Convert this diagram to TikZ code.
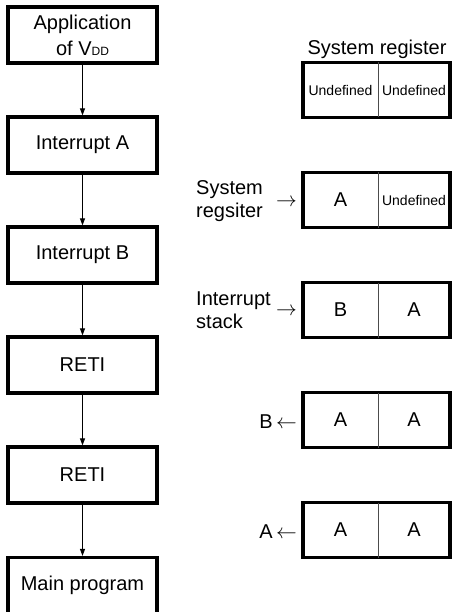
\documentclass[tikz,border=0pt]{standalone}
\usepackage{fontspec}
\setmainfont{Liberation Sans}
\usetikzlibrary{arrows.meta}
\begin{document}
\begin{tikzpicture}[x=1pt,y=-1pt,
  flow/.style={draw, line width=3.2pt, minimum width=149pt, minimum height=56pt,
    align=center, inner sep=0pt, font=\fontsize{20}{26}\selectfont},
  regbox/.style={draw, line width=3.2pt, minimum width=147pt, minimum height=55pt, inner sep=0pt},
  cell/.style={inner sep=0pt, font=\fontsize{20}{24}\selectfont},
  small/.style={inner sep=0pt, font=\fontsize{14}{16}\selectfont},
  lbl/.style={inner sep=0pt, align=left, font=\fontsize{20}{23}\selectfont},
  divider/.style={draw=black!70, line width=1pt},
  conn/.style={-{Triangle[length=7pt,width=5pt]}, line width=1pt}]
\useasboundingbox (0,0) rectangle (451,612);

% flow chart
\node[flow] (vdd) at (82.5,35) {Application\\of V{\fontsize{12}{12}\selectfont DD}};
\node[flow] (ia) at (82.5,145) {Interrupt A};
\node[flow] (ib) at (82.5,255) {Interrupt B};
\node[flow] (r1) at (82.5,365) {RETI};
\node[flow] (r2) at (82.5,475) {RETI};
\node[flow] (mp) at (82.5,585.5) {Main program};
\draw[conn] (vdd) -- (ia);
\draw[conn] (ia) -- (ib);
\draw[conn] (ib) -- (r1);
\draw[conn] (r1) -- (r2);
\draw[conn] (r2) -- (mp);

% registers
\node[inner sep=0pt, anchor=base, font=\fontsize{20}{24}\selectfont] (title) at (377,55) {System register};

\node[regbox] (g1) at (376.5,90) {};
\draw[divider] (378,62.5) -- (378,117.5);
\node[small] (g1l) at (340.5,90) {Undefined};
\node[small] (g1r) at (414,90) {Undefined};

\node[regbox] (g2) at (376.5,200) {};
\draw[divider] (378,172.5) -- (378,227.5);
\node[cell] (g2l) at (340.5,200) {A};
\node[small] (g2r) at (414,200) {Undefined};

\node[regbox] (g3) at (376.5,310) {};
\draw[divider] (378,282.5) -- (378,337.5);
\node[cell] (g3l) at (340.5,310) {B};
\node[cell] (g3r) at (414,310) {A};

\node[regbox] (g4) at (376.5,420) {};
\draw[divider] (378,392.5) -- (378,447.5);
\node[cell] (g4l) at (340.5,420) {A};
\node[cell] (g4r) at (414,420) {A};

\node[regbox] (g5) at (376.5,530) {};
\draw[divider] (378,502.5) -- (378,557.5);
\node[cell] (g5l) at (340.5,530) {A};
\node[cell] (g5r) at (414,530) {A};

% side labels
\node[lbl, anchor=base west] (sysreg) at (196,218) {System\\regsiter};
\node[inner sep=0pt, font=\fontsize{20}{24}\selectfont] (ar1) at (286.5,203) {$\rightarrow$};
\node[lbl, anchor=base west] (istack) at (196,328) {Interrupt\\stack};
\node[inner sep=0pt, font=\fontsize{20}{24}\selectfont] (ar2) at (286.5,312) {$\rightarrow$};
\node[inner sep=0pt, anchor=east, font=\fontsize{20}{24}\selectfont] (bout) at (297,422) {B\,$\leftarrow$};
\node[inner sep=0pt, anchor=east, font=\fontsize{20}{24}\selectfont] (aout) at (297,532) {A\,$\leftarrow$};
\end{tikzpicture}
\end{document}
